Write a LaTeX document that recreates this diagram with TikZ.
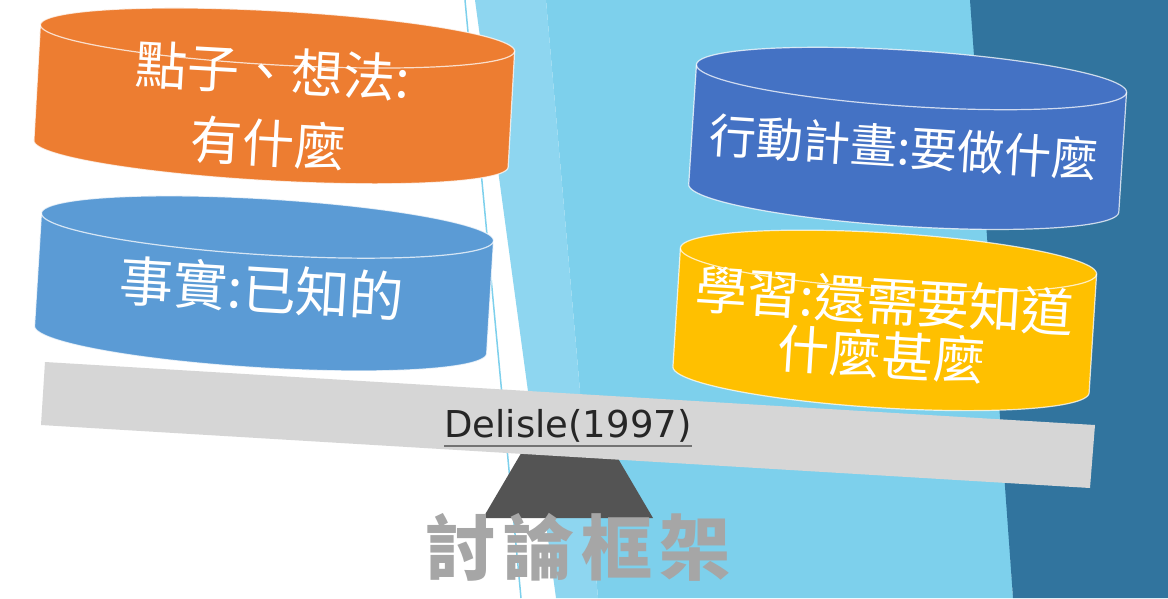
\documentclass[tikz,border=0pt]{standalone}
\usepackage{fontspec}
\newfontfamily\cjk{Noto Sans CJK TC}
\newfontfamily\latinf{DejaVu Sans}
\definecolor{bgband}{HTML}{8ED6F0}
\definecolor{bgmid}{HTML}{7DD0EC}
\definecolor{bgdark}{HTML}{31749E}
\definecolor{corange}{HTML}{ED7D31}
\definecolor{cblue}{HTML}{5B9BD5}
\definecolor{cdblue}{HTML}{4472C4}
\definecolor{cyellow}{HTML}{FFC000}
\definecolor{plankgrey}{HTML}{D6D6D6}
\definecolor{fulcrumgrey}{HTML}{545454}
\definecolor{titlegrey}{HTML}{A6A6A6}
\tikzset{
  canedge/.style={draw=white, draw opacity=0.75, line width=1.2},
  cantext/.style={text=white, align=center, inner sep=0, transform shape},
}
\newcommand{\mycan}[7]{%
\begin{scope}[shift={(#1,#2)},rotate=-#3]
\fill[#7] plot[domain=180:360,samples=72] ({#4*cos(\x)},{#6*sin(\x)}) -- plot[domain=0:180,samples=72] ({#4*cos(\x)},{#5+#6*sin(\x)}) -- cycle;
\draw[canedge] plot[domain=0:360,samples=120] ({#4*cos(\x)},{#6*sin(\x)}) -- cycle;
\draw[canedge] (-#4,0) -- (-#4,#5) (#4,0) -- (#4,#5);
\draw[canedge] plot[domain=0:180,samples=72] ({#4*cos(\x)},{#5+#6*sin(\x)});
\end{scope}}
\begin{document}
\begin{tikzpicture}[x=1pt,y=-1pt]
\useasboundingbox (0,0) rectangle (1168,598);
% background
\fill[white] (0,0) rectangle (1168,598);
\fill[bgmid] (546,0) -- (975,0) -- (1013,598) -- (598,598) -- cycle;
\fill[bgband] (475,0) -- (546,0) -- (598,598) -- (556,598) -- cycle;
\draw[bgmid, line width=1.5] (465,0) -- (521,598);
\fill[bgdark] (970,0) -- (1168,0) -- (1168,598) -- (1013,598) -- cycle;
% seesaw
\fill[fulcrumgrey] (523,450) -- (613,450) -- (653,518) -- (483,518) -- cycle;
\fill[plankgrey] (45,362) -- (1095,425) -- (1090,488) -- (41,425) -- cycle;
% cylinders
\mycan{277.5}{38}{3.2}{237.5}{116}{27}{corange}
\mycan{267.5}{227}{3.5}{226.5}{113}{28}{cblue}
\mycan{911.5}{78.5}{3.7}{215.5}{120}{28}{cdblue}
\mycan{888.5}{261}{3.6}{208.5}{119}{28}{cyellow}
% texts
\begin{scope}[shift={(277.5,38)},rotate=-3.2]
\node[cantext, font=\cjk\fontsize{52}{72}\selectfont] (idea) at (-3,69.5) {點子、想法:\\有什麼};
\end{scope}
\begin{scope}[shift={(267.5,227)},rotate=-3.5]
\node[cantext, font=\cjk\fontsize{54}{60}\selectfont] (fact) at (-2,62) {事實:已知的};
\end{scope}
\begin{scope}[shift={(911.5,78.5)},rotate=-3.7]
\node[cantext, font=\cjk\fontsize{47}{56}\selectfont] (plan) at (-3,69) {行動計畫:要做什麼};
\end{scope}
\begin{scope}[shift={(888.5,261)},rotate=-3.6]
\node[cantext, font=\cjk\fontsize{52}{54}\selectfont] (learn) at (-1,67) {學習:還需要知道\\什麼甚麼};
\end{scope}
\node[font=\latinf\fontsize{37}{44}\selectfont, text=black!85, inner sep=0, anchor=base] (del) at (568,437) {Delisle(1997)};
\draw[black!55, line width=1.8] ([yshift=-9pt]del.base west) -- ([yshift=-9pt]del.base east);
\node[font=\cjk\bfseries\fontsize{71}{80}\selectfont, text=titlegrey, inner sep=0] (title) at (578,547) {討\hspace{7pt}論\hspace{7pt}框\hspace{7pt}架};
\end{tikzpicture}
\end{document}
